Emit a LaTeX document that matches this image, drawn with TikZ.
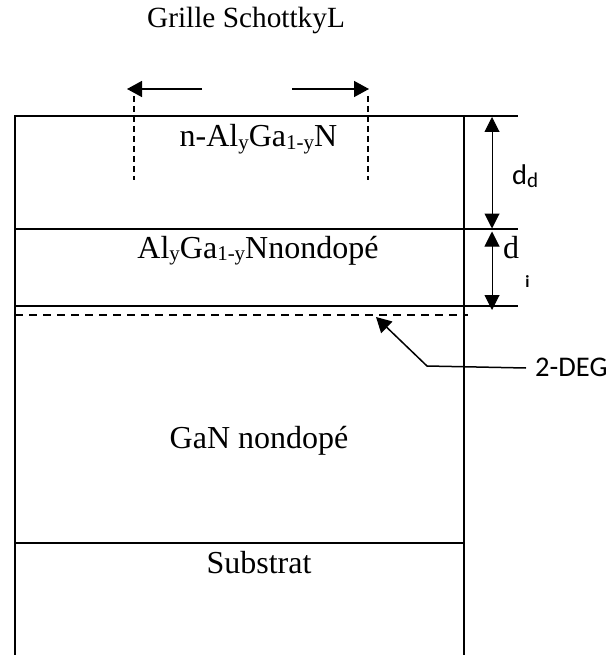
\documentclass[tikz,border=0pt]{standalone}
\usepackage{fontspec}
\setmainfont{Liberation Serif}
\newfontfamily\labelfont{Carlito}
\usetikzlibrary{arrows.meta,positioning,calc}
\newcommand{\lowsub}[1]{\raisebox{-2.500pt}{\fontsize{21}{22}\selectfont #1}}
\begin{document}
\begin{tikzpicture}[x=1pt,y=-1pt,
  layer/.style={draw=black,line width=1.7pt},
  lbl/.style={font=\fontsize{32}{36}\selectfont,inner sep=0pt,anchor=base},
  toplbl/.style={font=\fontsize{29.300}{32}\selectfont,inner sep=0pt,anchor=base},
  sidelbl/.style={font=\labelfont\fontsize{28.500}{32}\selectfont,inner sep=0pt,anchor=base west},
  arr/.style={-{Triangle[length=15pt,width=16pt]},line width=1.5pt},
  dim/.style={{Triangle[length=15pt,width=15pt]}-{Triangle[length=15pt,width=15pt]},line width=1pt},
  guide/.style={dash pattern=on 6pt off 4pt,line width=1.2pt},
  channel/.style={dash pattern=on 8pt off 6pt,line width=1.5pt}
]
\useasboundingbox (0,0) rectangle (608,655);
% layers
\draw[layer] (15,655) -- (15,116) -- (518,116);
\draw[layer] (464,116) -- (464,655);
\draw[layer] (15,229) -- (518,229);
\draw[layer] (15,306) -- (518,306);
\draw[layer] (15,543) -- (464,543);
\draw[channel] (15,315) -- (468,315);
% texts
\node[toplbl] (gate) at (246,28) {Grille SchottkyL};
\node[lbl] (barrier) at (258.500,147) {n-Al\lowsub{y}Ga\lowsub{1-y}N};
\node[lbl] (spacer) at (258,258) {Al\lowsub{y}Ga\lowsub{1-y}Nnondopé};
\node[lbl] (gan) at (259,448) {GaN nondopé};
\node[lbl] (sub) at (259,573) {Substrat};
\node[sidelbl] (deg) at (535,376) {2-DEG};
\node[sidelbl] (dd) at (512,185) {d\lowsub{d}};
\node[lbl,anchor=base west] (di) at (503,258) {d};
\node[sidelbl,anchor=base] (dis) at (527.500,287) {\fontsize{17}{18}\selectfont\bfseries i};
% gate arrows
\coordinate (gl) at (202,89); \coordinate (gla) at (127,89);
\coordinate (gr) at (292,89); \coordinate (gra) at (369,89);
\draw[arr] (gl) -- (gla);
\draw[arr] (gr) -- (gra);
\coordinate (dl1) at (134,96); \coordinate (dl2) at (134,180);
\coordinate (dr1) at (368,96); \coordinate (dr2) at (368,180);
\draw[guide] (dl1) -- (dl2);
\draw[guide] (dr1) -- (dr2);
% thickness
\coordinate (t1) at (492,117); \coordinate (t2) at (492,228.500);
\coordinate (t3) at (492,231.500); \coordinate (t4) at (492,310);
\draw[dim] (t1) -- (t2);
\draw[dim] (t3) -- (t4);
% 2-DEG pointer
\coordinate (p1) at (526,368); \coordinate (p2) at (427,366); \coordinate (p3) at (376,317);
\draw[arr] (p1) -- (p2) -- (p3);
\end{tikzpicture}
\end{document}
